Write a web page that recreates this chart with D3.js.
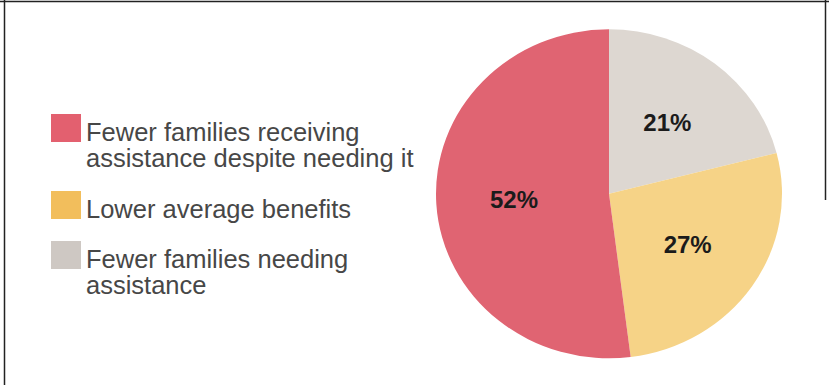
<!DOCTYPE html>
<html>
<head>
<meta charset="utf-8">
<script src="https://cdn.jsdelivr.net/npm/d3@7"></script>
<style>
  html, body { margin: 0; padding: 0; background: #fff; }
  svg { display: block; }
</style>
</head>
<body>
<svg id="chart" width="829" height="385"></svg>
<script>
// ---- data ----
const categories = [
  "Fewer families needing assistance",
  "Lower average benefits",
  "Fewer families receiving assistance despite needing it"
];
const values = [21, 27, 52];
const labels = ["21%", "27%", "52%"];
const pieColors = ["#ddd7d1", "#f6d387", "#e06472"];
const legendOrder = [2, 1, 0];
const legendLines = [
  ["Fewer families receiving", "assistance despite needing it"],
  ["Lower average benefits"],
  ["Fewer families needing", "assistance"]
];
const legendColors = ["#e3606f", "#f2be5c", "#cec8c3"];

// ---- drawing ----
const svg = d3.select("#chart");
const W = 829, H = 385;

// frame
svg.append("line").attr("x1", 0).attr("x2", W).attr("y1", 1.5).attr("y2", 1.5)
  .attr("stroke", "#222").attr("stroke-width", 1.5);
svg.append("line").attr("x1", 4.5).attr("x2", 4.5).attr("y1", 0).attr("y2", H)
  .attr("stroke", "#222").attr("stroke-width", 1.5);
svg.append("line").attr("x1", 825.5).attr("x2", 825.5).attr("y1", 0).attr("y2", 200)
  .attr("stroke", "#222").attr("stroke-width", 1.5);

const cx = 609, cy = 193.8, rx = 173, ry = 164.5;
const pie = d3.pie().sort(null).value(d => d)(values);
const arc = d3.arc().innerRadius(0).outerRadius(rx);
const labelArc = d3.arc().innerRadius(0).outerRadius(rx * 1.1);

const pg = svg.append("g").attr("transform", `translate(${cx},${cy}) scale(1,${ry / rx})`);
pg.selectAll("path").data(pie).join("path")
  .attr("d", arc)
  .attr("fill", (d, i) => pieColors[i]);

const lg = svg.append("g").attr("transform", `translate(${cx},${cy})`);
lg.selectAll("text").data(pie).join("text")
  .attr("x", d => labelArc.centroid(d)[0])
  .attr("y", d => labelArc.centroid(d)[1] * ry / rx)
  .attr("dy", "0.36em")
  .attr("text-anchor", "middle")
  .attr("font-family", "'Liberation Sans', Arial, sans-serif")
  .attr("font-weight", "bold")
  .attr("font-size", 24)
  .attr("fill", "#1b1b1b")
  .text((d, i) => labels[i]);

// legend
const legendBaselines = [141, 218, 268];
const lineGap = 26;
const leg = svg.append("g");
legendOrder.forEach((idx, k) => {
  const b = legendBaselines[k];
  leg.append("rect")
    .attr("x", 51).attr("y", b - 27).attr("width", 30).attr("height", 28)
    .attr("fill", legendColors[k]);
  const t = leg.append("text")
    .attr("x", 86).attr("y", b)
    .attr("font-family", "'Liberation Sans', Arial, sans-serif")
    .attr("font-size", 25.5)
    .attr("fill", "#474747");
  legendLines[k].forEach((ln, j) => {
    t.append("tspan").attr("x", 86).attr("y", b + j * lineGap).text(ln);
  });
});
</script>
</body>
</html>
